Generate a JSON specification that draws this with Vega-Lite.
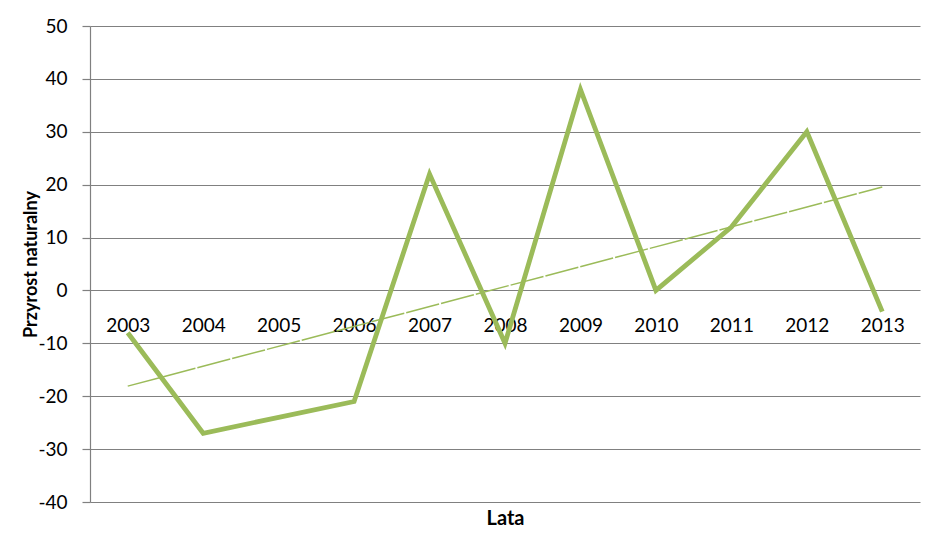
{
  "$schema": "https://vega.github.io/schema/vega-lite/v6.json",
  "autosize": {"type": "none"},
  "width": 830,
  "height": 476,
  "padding": {"left": 90, "top": 26, "right": 24, "bottom": 36},
  "background": "white",
  "config": {
    "view": {"stroke": null},
    "font": "Lato"
  },
  "data": {
    "values": [
      {"year": 2003, "value": -8},
      {"year": 2004, "value": -27},
      {"year": 2005, "value": -24},
      {"year": 2006, "value": -21},
      {"year": 2007, "value": 22},
      {"year": 2008, "value": -10},
      {"year": 2009, "value": 38},
      {"year": 2010, "value": 0},
      {"year": 2011, "value": 12},
      {"year": 2012, "value": 30},
      {"year": 2013, "value": -4}
    ]
  },
  "resolve": {"axis": {"x": "independent"}},
  "layer": [
    {
      "mark": {"type": "line", "color": "#9BBB59", "strokeWidth": 4.8, "strokeJoin": "miter"},
      "encoding": {
        "x": {
          "field": "year", "type": "quantitative",
          "scale": {"domain": [2002.5, 2013.5], "nice": false, "zero": false},
          "axis": {
            "orient": "bottom", "offset": -211.5, "title": null,
            "values": [2003, 2004, 2005, 2006, 2007, 2008, 2009, 2010, 2011, 2012, 2013],
            "format": "d", "grid": false, "domain": false, "ticks": false,
            "labelPadding": 26, "labelFontSize": 19, "labelColor": "#000000", "labelFont": "Lato"
          }
        },
        "y": {
          "field": "value", "type": "quantitative",
          "scale": {"domain": [-40, 50], "nice": false, "zero": false},
          "axis": {
            "values": [-40, -30, -20, -10, 0, 10, 20, 30, 40, 50],
            "labelExpr": "'' + datum.value",
            "grid": true, "gridColor": "#808080", "gridWidth": 1.2, "gridOpacity": 1,
            "domainColor": "#808080", "domainWidth": 1.2,
            "tickColor": "#808080", "tickSize": 8, "tickWidth": 1.2,
            "labelPadding": 15, "labelFontSize": 19, "labelColor": "#000000", "labelFont": "Lato",
            "title": "Przyrost naturalny", "titleFontSize": 18, "titleFontWeight": "bold",
            "titleColor": "#000000", "titleFont": "Lato", "titleX": -50, "titleY": 238,
            "titleBaseline": "bottom", "titleAngle": -90
          }
        }
      }
    },
    {
      "transform": [{"regression": "value", "on": "year"}],
      "mark": {"type": "line", "color": "#9BBB59", "strokeWidth": 1.5, "strokeDash": [34, 2]},
      "encoding": {
        "x": {
          "field": "year", "type": "quantitative",
          "axis": {
            "orient": "bottom", "title": "Lata", "labels": false, "ticks": false, "domain": false, "grid": false,
            "titleFontSize": 20, "titleFontWeight": "bold", "titleColor": "#000000", "titleFont": "Lato",
            "titlePadding": 6
          }
        },
        "y": {"field": "value", "type": "quantitative"}
      }
    }
  ]
}
